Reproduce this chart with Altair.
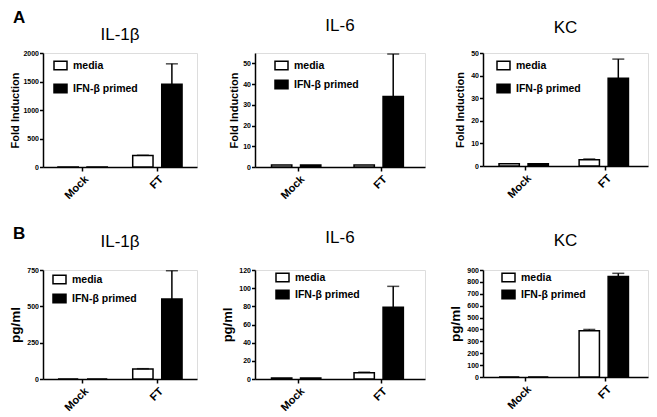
import altair as alt
import pandas as pd

# ---------------- data ----------------
categories = ["Mock", "FT"]
treatments = ["media", "IFN-β primed"]
panel_letters = ["A", "B"]

panel_titles = ["IL-1β", "IL-6", "KC", "IL-1β", "IL-6", "KC"]
y_titles = ["Fold Induction", "Fold Induction", "Fold Induction", "pg/ml", "pg/ml", "pg/ml"]
y_max = [2000, 55, 50, 750, 120, 900]
y_ticks = [
    [0, 500, 1000, 1500, 2000],
    [0, 10, 20, 30, 40, 50],
    [0, 10, 20, 30, 40, 50],
    [0, 250, 500, 750],
    [0, 20, 40, 60, 80, 100, 120],
    [0, 100, 200, 300, 400, 500, 600, 700, 800, 900],
]

# [Mock, FT] for each panel
media_means = [[1, 200], [1, 1], [1, 2.8], [0, 68], [1, 7], [0, 390]]
media_err = [[0, 6], [0, 0], [0, 0.3], [0, 3], [0, 0.5], [0, 10]]
ifn_means = [[1, 1450], [1, 34], [1, 38.8], [0, 550], [1, 79], [0, 845]]
ifn_err = [[0, 360], [0, 20.5], [0, 8.5], [0, 195], [0, 23], [0, 27]]

# ---------------- layout / style ----------------
FONT = "Liberation Sans"
widths = [154, 170, 165, 154, 170, 165]
heights = [114, 114, 113, 109, 109, 107]
legend_x = [10, 19, 13, 9, 20, 18]
legend_y = [5, 5, 5, 2, 0, 0]
legend_rowpad = [8, 4, 8, 4, 2, 2]
title_offset = [13, 22, 20, 23, 27, 24]
ytitle_size = [11, 11, 11, 13.5, 13, 13.5]
ytitle_pad = [2, 3, 5, 4, 4, 4]
RECT = "M-1,-0.65H1V0.65H-1Z"


def make_df(i):
    rows = []
    for j, c in enumerate(categories):
        rows.append({"cat": c, "grp": treatments[0], "val": media_means[i][j], "err": media_err[i][j]})
        rows.append({"cat": c, "grp": treatments[1], "val": ifn_means[i][j], "err": ifn_err[i][j]})
    return pd.DataFrame(rows)


def panel(i):
    df = make_df(i)
    x_enc = alt.X(
        "cat:N",
        sort=categories,
        scale=alt.Scale(paddingInner=0.34, paddingOuter=0.2),
        axis=alt.Axis(
            title=None,
            labelAngle=-45,
            labelFont=FONT,
            labelFontSize=11,
            labelFontWeight="bold",
            labelColor="black",
            labelPadding=2,
            tickSize=4,
            tickWidth=1.5,
            tickColor="black",
            domainColor="black",
            domainWidth=1.5,
            grid=False,
        ),
    )
    xo_enc = alt.XOffset("grp:N", sort=treatments, scale=alt.Scale(paddingInner=0.3, paddingOuter=0))
    y_scale = alt.Scale(domain=[0, y_max[i]], nice=False)
    y_axis = alt.Axis(
        values=y_ticks[i],
        format="d",
        title=y_titles[i],
        titleFont=FONT,
        titleFontSize=ytitle_size[i],
        titleFontWeight="bold",
        titleColor="black",
        titlePadding=ytitle_pad[i],
        labelFont=FONT,
        labelFontSize=7,
        labelFontWeight="bold",
        labelColor="black",
        labelPadding=1,
        labelOverlap=False,
        tickSize=3.5,
        tickWidth=1.5,
        tickColor="black",
        domainColor="black",
        domainWidth=1.5,
        grid=False,
    )
    base = alt.Chart(df).encode(x=x_enc, xOffset=xo_enc)

    bars = base.mark_bar(stroke="black", strokeWidth=1.5).encode(
        y=alt.Y("val:Q", scale=y_scale, axis=y_axis),
        fill=alt.Fill(
            "grp:N",
            sort=treatments,
            scale=alt.Scale(domain=treatments, range=["white", "black"]),
            legend=alt.Legend(
                title=None,
                orient="none",
                legendX=legend_x[i],
                legendY=legend_y[i],
                symbolType=RECT,
                symbolSize=169,
                symbolStrokeColor="black",
                symbolStrokeWidth=1.5,
                symbolOpacity=1,
                labelFont=FONT,
                labelFontSize=10.5,
                labelFontWeight="bold",
                labelColor="black",
                labelOffset=5,
                rowPadding=legend_rowpad[i],
                padding=0,
            ),
        ),
    )

    err_base = base.transform_filter("datum.err > 0").transform_calculate(top="datum.val + datum.err")
    rules = err_base.mark_rule(color="black", strokeWidth=1.5).encode(
        y=alt.Y("val:Q", scale=y_scale, axis=y_axis), y2="top:Q"
    )
    caps = err_base.mark_tick(color="black", thickness=1.5, size=12).encode(
        y=alt.Y("top:Q", scale=y_scale, axis=y_axis)
    )

    title_txt = alt.Chart(pd.DataFrame({"t": [panel_titles[i]]})).mark_text(
        font=FONT, fontSize=17, fontWeight="normal", align="center", baseline="alphabetic", color="black"
    ).encode(text="t:N", x=alt.value(widths[i] / 2), y=alt.value(-title_offset[i]))

    layers = [bars, rules, caps, title_txt]
    if i in (0, 3):
        letter = panel_letters[0] if i == 0 else panel_letters[1]
        ltxt = alt.Chart(pd.DataFrame({"letter": [letter]})).mark_text(
            font=FONT, fontSize=17, fontWeight="bold", align="left", baseline="alphabetic", color="black"
        ).encode(text="letter:N", x=alt.value(-30), y=alt.value(-30 if i == 0 else -31))
        layers.append(ltxt)

    return alt.layer(*layers).properties(width=widths[i], height=heights[i])


panels = [panel(i) for i in range(6)]

rowA = alt.hconcat(*panels[:3], spacing=58, bounds="flush").resolve_scale(fill="independent").resolve_legend(fill="independent")
rowB = alt.hconcat(*panels[3:], spacing=58, bounds="flush").resolve_scale(fill="independent").resolve_legend(fill="independent")

chart = (
    alt.vconcat(rowA, rowB, spacing=22)
    .resolve_scale(fill="independent")
    .resolve_legend(fill="independent")
    .properties(padding=0, background="white")
    .configure_view(stroke="transparent", strokeWidth=0)
    .configure(font=FONT)
)

chart.save("out.html", embed_options={"renderer": "svg", "actions": False})
